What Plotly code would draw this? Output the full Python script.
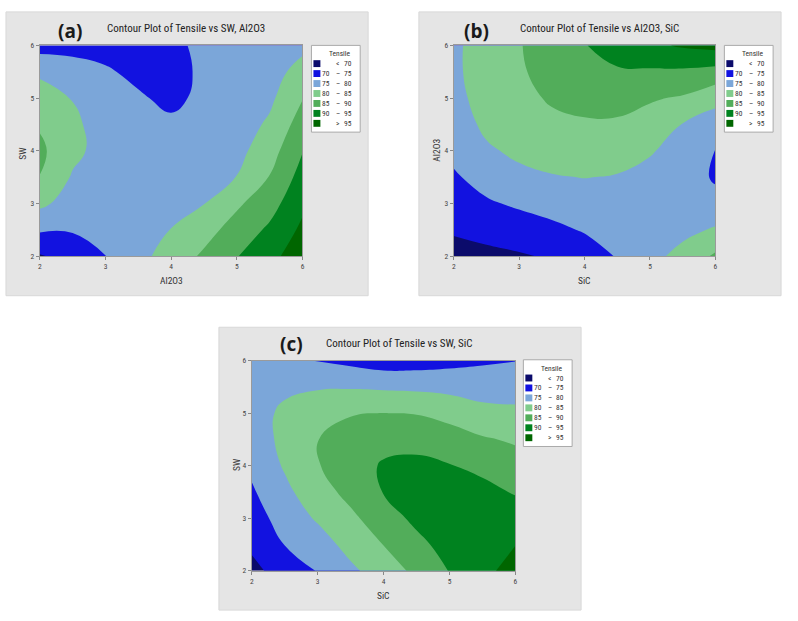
import plotly.graph_objects as go

W, H = 798, 621

# ---------------- data ----------------
grid = [2.0, 2.5, 3.0, 3.5, 4.0, 4.5, 5.0, 5.5, 6.0]
ticks = [2, 3, 4, 5, 6]
levels = [70, 75, 80, 85, 90, 95]
legend_lo = ["", "70", "75", "80", "85", "90", ""]
legend_sep = ["<", "\u2013", "\u2013", "\u2013", "\u2013", "\u2013", ">"]
legend_hi = ["70", "75", "80", "85", "90", "95", "95"]
band_colors = ["#0b0b6b", "#1212e0", "#7ba6d9", "#80cc8c", "#52ad5a", "#00821f", "#006600"]

# (a) Tensile vs SW (rows) and Al2O3 (columns)
tensile_a = [
    [69.5, 72.0, 74.9, 78.5, 82.2, 85.8, 89.8, 93.5, 98.0],
    [75.6, 75.4, 76.5, 78.0, 80.1, 83.2, 87.0, 90.9, 96.0],
    [81.1, 77.8, 77.3, 77.5, 78.5, 79.9, 84.2, 88.0, 94.0],
    [84.9, 79.5, 77.8, 77.0, 77.8, 78.3, 80.1, 85.2, 91.9],
    [86.0, 81.3, 78.0, 76.8, 77.0, 77.5, 78.5, 82.9, 89.8],
    [84.5, 81.0, 77.8, 76.3, 75.8, 77.0, 77.5, 80.8, 87.3],
    [82.1, 79.8, 77.0, 75.5, 74.0, 76.0, 77.0, 79.0, 84.8],
    [79.2, 77.0, 75.5, 74.0, 73.5, 75.8, 76.5, 78.0, 81.8],
    [73.0, 73.5, 73.5, 73.0, 73.5, 76.5, 76.0, 77.5, 78.8],
]
# (b) Tensile vs Al2O3 (rows) and SiC (columns)
tensile_b = [
    [68.0, 69.0, 69.5, 70.5, 72.5, 75.3, 78.6, 81.5, 85.8],
    [70.6, 71.3, 72.6, 73.8, 75.4, 76.8, 78.0, 78.8, 80.5],
    [72.5, 74.4, 75.7, 77.0, 77.8, 78.0, 77.8, 77.0, 76.8],
    [74.4, 76.8, 78.8, 79.7, 80.1, 79.7, 78.6, 78.0, 74.3],
    [76.2, 79.3, 81.0, 82.0, 82.3, 82.0, 80.4, 78.2, 74.8],
    [77.5, 81.0, 82.8, 84.0, 84.4, 84.3, 83.0, 79.8, 77.6],
    [78.5, 82.0, 83.8, 85.5, 86.6, 86.8, 85.5, 84.5, 81.5],
    [79.0, 82.5, 84.4, 86.8, 88.5, 89.5, 89.4, 89.2, 88.3],
    [79.0, 82.5, 84.7, 87.5, 89.8, 92.0, 94.0, 95.6, 96.5],
]
# (c) Tensile vs SW (rows) and SiC (columns)
tensile_c = [
    [68.5, 72.5, 75.2, 79.0, 82.5, 86.1, 90.2, 93.6, 97.0],
    [71.0, 75.1, 77.7, 81.7, 85.1, 88.6, 92.0, 93.8, 94.9],
    [72.8, 77.0, 80.6, 84.0, 87.6, 91.2, 93.0, 93.0, 92.5],
    [74.4, 78.8, 83.0, 86.4, 90.2, 92.8, 92.6, 91.4, 89.6],
    [76.0, 80.5, 84.7, 87.8, 90.5, 91.2, 90.2, 88.8, 87.0],
    [77.2, 81.3, 84.9, 87.5, 88.5, 88.3, 87.3, 85.5, 84.4],
    [77.8, 81.0, 83.5, 84.6, 85.05, 84.8, 83.4, 81.6, 81.0],
    [77.8, 79.0, 79.5, 79.6, 79.3, 79.0, 78.6, 77.8, 78.0],
    [76.8, 76.3, 74.8, 73.8, 72.5, 72.7, 73.5, 74.4, 74.9],
]

panels = [
    dict(z=tensile_a, tag="(a)", title="Contour Plot of Tensile vs SW, Al2O3", xt="Al2O3", yt="SW",
         plot=(38, 302, 42, 256), bg=(4, 368, 8, 296), leg=(311, 42),
         tagpos=(68, 27), titlepos=(185, 25), xtpos=(170, 281), ytpos=(21, 152)),
    dict(z=tensile_b, tag="(b)", title="Contour Plot of Tensile vs Al2O3, SiC", xt="SiC", yt="Al2O3",
         plot=(454, 717, 42, 256), bg=(419, 783, 8, 296), leg=(726, 42),
         tagpos=(477, 27), titlepos=(601, 25), xtpos=(585, 281), ytpos=(437, 148)),
    dict(z=tensile_c, tag="(c)", title="Contour Plot of Tensile vs SW, SiC", xt="SiC", yt="SW",
         plot=(251, 516, 362, 575), bg=(218, 582, 328, 615), leg=(524, 361),
         tagpos=(291, 345), titlepos=(399, 344), xtpos=(383, 600), ytpos=(235, 468)),
]

fx = lambda p: p / W
fy = lambda p: 1 - p / H

n = len(band_colors)
colorscale = [[i / (n - 1), c] for i, c in enumerate(band_colors)]

FONT = "Liberation Sans Narrow, Roboto Condensed, Arial Narrow, Liberation Sans, sans-serif"
fig = go.Figure()
shapes, annotations = [], []
layout_axes = {}

for k, p in enumerate(panels):
    sfx = "" if k == 0 else str(k + 1)
    xa, ya = "x" + sfx, "y" + sfx
    fig.add_trace(go.Contour(
        x=grid, y=grid, z=p["z"], xaxis=xa, yaxis=ya,
        colorscale=colorscale, showscale=False, autocontour=False,
        contours=dict(start=levels[0], end=levels[-1], size=levels[1] - levels[0],
                      coloring="fill", showlines=False),
        line=dict(width=0, smoothing=1.3), hoverinfo="skip",
    ))
    x0, x1, y0, y1 = p["plot"]
    axcommon = dict(range=[2, 6], tickvals=ticks, ticks="outside", ticklen=3, tickwidth=1,
                    tickcolor="#888", showline=True, linecolor="#9a9a9a", linewidth=1, mirror=True,
                    showgrid=False, zeroline=False,
                    tickfont=dict(family=FONT, size=7.5, color="#444"))
    layout_axes["xaxis" + sfx] = dict(axcommon, domain=[fx(x0), fx(x1)], anchor=ya)
    layout_axes["yaxis" + sfx] = dict(axcommon, domain=[fy(y1), fy(y0)], anchor=xa)

    bx0, bx1, by0, by1 = p["bg"]
    shapes.append(dict(type="rect", xref="paper", yref="paper", layer="below",
                       x0=fx(bx0), x1=fx(bx1), y0=fy(by1), y1=fy(by0),
                       fillcolor="#e5e5e5", line=dict(color="#d8d8d8", width=1)))
    # titles
    annotations.append(dict(text="<b>" + p["tag"] + "</b>", x=fx(p["tagpos"][0]), y=fy(p["tagpos"][1]),
                            xref="paper", yref="paper", showarrow=False, xanchor="center", yanchor="middle",
                            font=dict(family="Open Sans, sans-serif", size=19, color="#1a1a1a")))
    annotations.append(dict(text=p["title"], x=fx(p["titlepos"][0]), y=fy(p["titlepos"][1]),
                            xref="paper", yref="paper", showarrow=False, xanchor="center", yanchor="middle",
                            font=dict(family=FONT, size=11, color="#222")))
    annotations.append(dict(text=p["xt"], x=fx(p["xtpos"][0]), y=fy(p["xtpos"][1]),
                            xref="paper", yref="paper", showarrow=False, xanchor="center", yanchor="middle",
                            font=dict(family=FONT, size=9.5, color="#333")))
    annotations.append(dict(text=p["yt"], x=fx(p["ytpos"][0]), y=fy(p["ytpos"][1]), textangle=-90,
                            xref="paper", yref="paper", showarrow=False, xanchor="center", yanchor="middle",
                            font=dict(family=FONT, size=9.5, color="#333")))
    # legend
    lx, ly = p["leg"]
    shapes.append(dict(type="rect", xref="paper", yref="paper",
                       x0=fx(lx), x1=fx(lx + 49), y0=fy(ly + 88), y1=fy(ly),
                       fillcolor="white", line=dict(color="#aaaaaa", width=1)))
    annotations.append(dict(text="Tensile", x=fx(lx + 29), y=fy(ly + 8.5), xref="paper", yref="paper",
                            showarrow=False, xanchor="center", yanchor="middle",
                            font=dict(family=FONT, size=7.5, color="#333")))
    for i in range(n):
        cy = ly + 18.5 + 10.1 * i
        shapes.append(dict(type="rect", xref="paper", yref="paper",
                           x0=fx(lx + 2), x1=fx(lx + 9), y0=fy(cy + 3.5), y1=fy(cy - 3.5),
                           fillcolor=band_colors[i], line=dict(width=0)))
        for txt, xpos, anc in ((legend_lo[i], lx + 20.5, "right"), (legend_sep[i], lx + 26.5, "center"),
                               (legend_hi[i], lx + 43, "right")):
            if txt:
                annotations.append(dict(text=txt, x=fx(xpos), y=fy(cy), xref="paper", yref="paper",
                                        showarrow=False, xanchor=anc, yanchor="middle",
                                        font=dict(family=FONT, size=7.5, color="#333")))

fig.update_layout(width=W, height=H, margin=dict(l=0, r=0, t=0, b=0), autosize=False,
                  paper_bgcolor="white", plot_bgcolor="white", showlegend=False,
                  shapes=shapes, annotations=annotations, **layout_axes)

fig.write_html("out.html")
